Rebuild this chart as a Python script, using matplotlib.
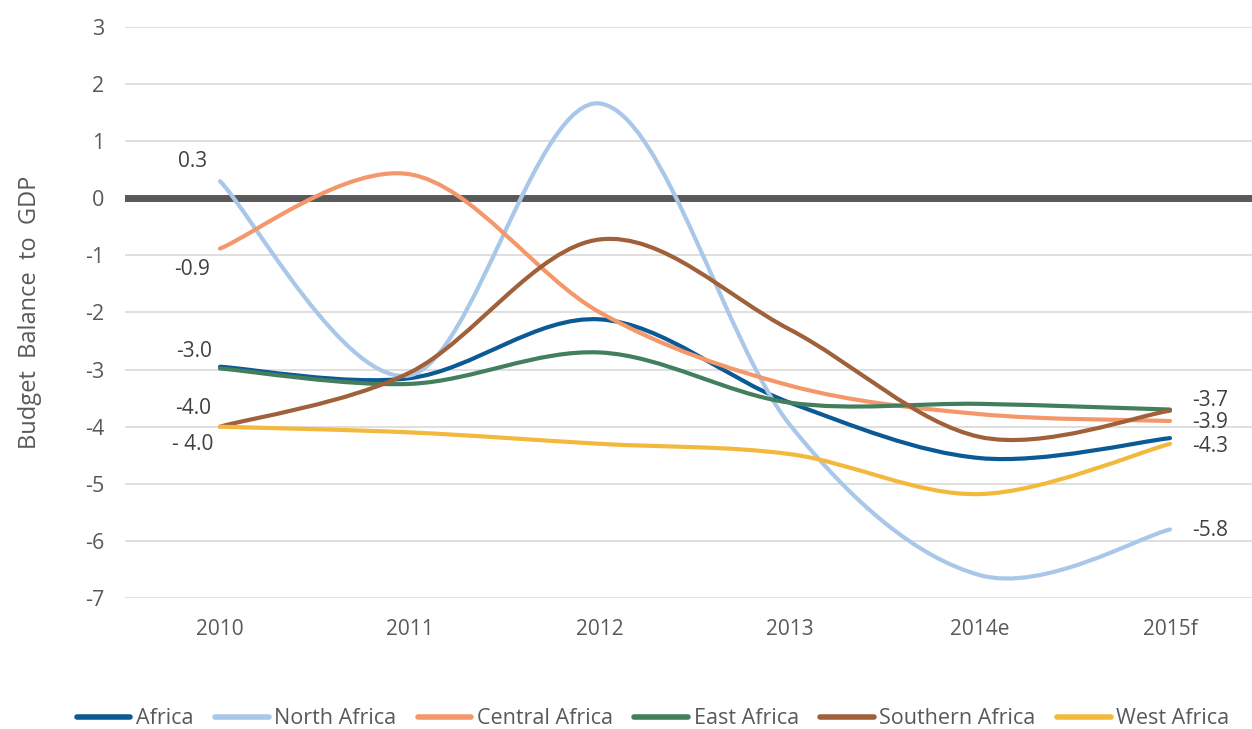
"""Budget balance to GDP by African region, 2010-2015f (smoothed lines)."""

import matplotlib

matplotlib.use("Agg")
import matplotlib.pyplot as plt
from matplotlib.lines import Line2D
from matplotlib.patches import PathPatch
from matplotlib.path import Path

years = ["2010", "2011", "2012", "2013", "2014e", "2015f"]
africa = [-2.95, -3.15, -2.12, -3.58, -4.55, -4.2]
north_africa = [0.3, -3.1, 1.66, -3.97, -6.6, -5.8]
central_africa = [-0.88, 0.42, -2.0, -3.28, -3.78, -3.9]
east_africa = [-2.98, -3.25, -2.7, -3.58, -3.6, -3.7]
southern_africa = [-4.0, -3.05, -0.72, -2.3, -4.18, -3.72]
west_africa = [-4.0, -4.1, -4.3, -4.48, -5.18, -4.3]

series = [
    ("Africa", africa, "#0b5a95"),
    ("North Africa", north_africa, "#a9c7e8"),
    ("Central Africa", central_africa, "#f4986b"),
    ("East Africa", east_africa, "#437f5d"),
    ("Southern Africa", southern_africa, "#a0603a"),
    ("West Africa", west_africa, "#f3b93c"),
]

GREY = "#595959"
plt.rcParams["font.family"] = ["Open Sans", "DejaVu Sans"]
plt.rcParams["axes.unicode_minus"] = False


def smooth_path(xs, ys):
    # Catmull-Rom style bezier, like the spreadsheet's "smoothed line"
    pts = list(zip(xs, ys))
    n = len(pts)
    verts = [pts[0]]
    codes = [Path.MOVETO]
    for i in range(n - 1):
        p0 = pts[max(i - 1, 0)]
        p1 = pts[i]
        p2 = pts[i + 1]
        p3 = pts[min(i + 2, n - 1)]
        c1 = (p1[0] + (p2[0] - p0[0]) / 6, p1[1] + (p2[1] - p0[1]) / 6)
        c2 = (p2[0] - (p3[0] - p1[0]) / 6, p2[1] - (p3[1] - p1[1]) / 6)
        verts += [c1, c2, p2]
        codes += [Path.CURVE4] * 3
    return Path(verts, codes)


fig = plt.figure(figsize=(12.52, 7.29), dpi=100)
ax = fig.add_axes([125 / 1252, 131 / 729, 1140 / 1252, 571 / 729])

x = list(range(len(years)))
handles = []
for i, (name, vals, color) in enumerate(series):
    ax.add_patch(PathPatch(smooth_path(x, vals), fill=False, ec=color, lw=3.0,
                           capstyle="round", joinstyle="round", zorder=3 + i))
    handles.append(Line2D([], [], color=color, lw=4.0, solid_capstyle="round"))

ax.axhline(0, color=GREY, lw=5, zorder=2)
ax.set_xlim(-0.5, 5.5)
ax.set_ylim(-7, 3)
ax.set_yticks(range(-7, 4))
ax.set_xticks(x)
ax.set_xticklabels(years)
ax.grid(axis="y", color="#d9d9d9", lw=1.2, zorder=0)
ax.tick_params(axis="y", length=0, pad=15, labelsize=15.5, labelcolor=GREY)
ax.tick_params(axis="x", length=0, pad=15, labelsize=15, labelcolor=GREY)
for s in ax.spines.values():
    s.set_visible(False)
ax.set_ylabel("Budget  Balance  to  GDP", fontsize=17, color=GREY, labelpad=31)

# data labels at first and last points
lab = dict(textcoords="offset points", fontsize=15, color="#404040", va="center")
ax.annotate("0.3", (0, north_africa[0]), xytext=(-20, 14), ha="center", **lab)
ax.annotate("-0.9", (0, central_africa[0]), xytext=(-20, -15), ha="center", **lab)
ax.annotate("-3.0", (0, africa[0]), xytext=(-19, 11), ha="center", **lab)
ax.annotate("-4.0", (0, southern_africa[0]), xytext=(-19, 13), ha="center", **lab)
ax.annotate("- 4.0", (0, west_africa[0]), xytext=(-20, -13), ha="center", **lab)
ax.annotate("-3.7", (5, southern_africa[-1]), xytext=(16, 7), ha="left", **lab)
ax.annotate("-3.9", (5, central_africa[-1]), xytext=(16, -1), ha="left", **lab)
ax.annotate("-4.3", (5, west_africa[-1]), xytext=(16, -2), ha="left", **lab)
ax.annotate("-5.8", (5, north_africa[-1]), xytext=(16, -1), ha="left", **lab)

fig.legend(handles, [s[0] for s in series], loc="center", bbox_to_anchor=(653 / 1252, 10 / 729),
           ncol=6, frameon=False, handlelength=2.5, handletextpad=0.25, columnspacing=1.0,
           prop={"size": 15.5}, labelcolor=GREY)

fig.savefig("out.png", dpi=100)
